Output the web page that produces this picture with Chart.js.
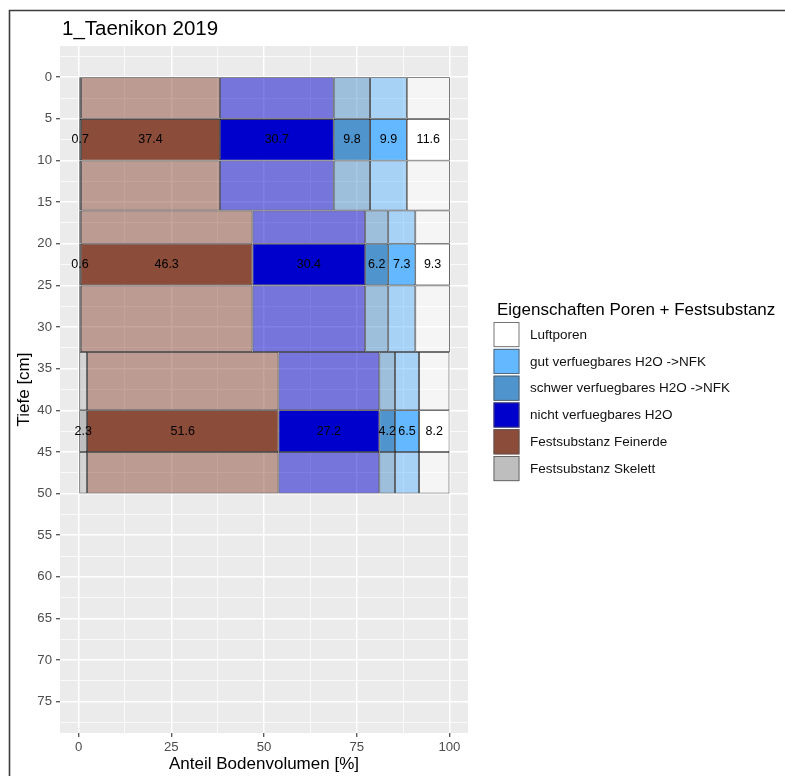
<!DOCTYPE html>
<html>
<head>
<meta charset="utf-8">
<script src="https://cdn.jsdelivr.net/npm/chart.js@4/dist/chart.umd.min.js"></script>
<style>
  html, body { margin: 0; padding: 0; background: #ffffff; }
  canvas { display: block; }
</style>
</head>
<body>
<canvas id="c" width="785" height="776"></canvas>
<script>
const FONT = '"Liberation Sans", Arial, Helvetica, sans-serif';

// Soil horizons and the sampled layer inside each one (depth in cm)
const horizonTop = [0, 16, 33];
const horizonBottom = [16, 33, 50];
const sampleTop = [5, 20, 40];
const sampleBottom = [10, 25, 45];

// Volume fractions per horizon [%], stacked from left to right
const skelett = [0.7, 0.6, 2.3];
const feinerde = [37.4, 46.3, 51.6];
const nichtVerfuegbar = [30.7, 30.4, 27.2];
const schwerVerfuegbar = [9.8, 6.2, 4.2];
const gutVerfuegbar = [9.9, 7.3, 6.5];
const luftporen = [11.6, 9.3, 8.2];

const componentNames = [
  'Festsubstanz Skelett',
  'Festsubstanz Feinerde',
  'nicht verfuegbares H2O',
  'schwer verfuegbares H2O ->NFK',
  'gut verfuegbares H2O ->NFK',
  'Luftporen'
];
const componentValues = [skelett, feinerde, nichtVerfuegbar, schwerVerfuegbar, gutVerfuegbar, luftporen];
const componentRgb = ['190,190,190', '139,76,57', '0,0,205', '79,148,205', '99,184,255', '255,255,255'];

// Axis ticks
const xTicks = [0, 25, 50, 75, 100];
const depthTicks = [0, 5, 10, 15, 20, 25, 30, 35, 40, 45, 50, 55, 60, 65, 70, 75];

const chartTitle = '1_Taenikon 2019';
const legendTitle = 'Eigenschaften Poren + Festsubstanz';

// grid positions: major ticks plus the midpoints between them (minor lines)
function withMinor(major, lo, hi) {
  const step = major[1] - major[0];
  const out = [];
  for (let v = major[0] - step / 2; v <= major[major.length - 1] + step / 2 + 1e-9; v += step / 2) {
    if (v > lo && v < hi) out.push(Math.round(v * 100) / 100);
  }
  return out;
}
const X_MIN = -5, X_MAX = 105;
const Y_MIN = -3.75, Y_MAX = 78.75;
const xGrid = withMinor(xTicks, X_MIN, X_MAX);
const yGrid = withMinor(depthTicks, Y_MIN, Y_MAX);

const isMajor = (ctx, list) => !!(ctx && ctx.tick && list.includes(ctx.tick.value));

// one dataset per component: three layers per horizon (upper, sampled, lower)
const datasets = componentNames.map((name, c) => {
  const data = [];
  horizonTop.forEach((top, h) => {
    let start = 0;
    for (let k = 0; k < c; k++) start += componentValues[k][h];
    const end = start + componentValues[c][h];
    const layers = [
      [top, sampleTop[h], false],
      [sampleTop[h], sampleBottom[h], true],
      [sampleBottom[h], horizonBottom[h], false]
    ];
    layers.forEach(([d0, d1, sample]) => {
      data.push({ x: [start, end], y: (d0 + d1) / 2, d0, d1, sample, value: componentValues[c][h] });
    });
  });
  return {
    label: name,
    data,
    grouped: false,
    borderSkipped: false,
    borderWidth: 0.8,
    borderColor: ctx => (ctx.raw && ctx.raw.sample) ? '#111111' : 'rgba(25,25,25,0.9)',
    backgroundColor: ctx => (ctx.raw && ctx.raw.sample)
      ? 'rgb(' + componentRgb[c] + ')'
      : 'rgba(' + componentRgb[c] + ',0.5)'
  };
});

// bar thickness follows the depth range of each layer on the depth axis
const depthBands = {
  id: 'depthBands',
  afterDatasetUpdate(chart, args) {
    const y = chart.scales.y;
    const ds = chart.data.datasets[args.index];
    args.meta.data.forEach((el, i) => {
      const d = ds.data[i];
      const p0 = y.getPixelForValue(d.d0);
      const p1 = y.getPixelForValue(d.d1);
      el.y = (p0 + p1) / 2;
      el.height = Math.abs(p1 - p0);
    });
  }
};

// grey panel, outer frame and plot title
const panel = {
  id: 'panel',
  beforeDraw(chart) {
    const { ctx, chartArea: a } = chart;
    ctx.save();
    ctx.fillStyle = '#ffffff';
    ctx.fillRect(0, 0, chart.width, chart.height);
    ctx.fillStyle = '#ebebeb';
    ctx.fillRect(a.left, a.top, a.right - a.left, a.bottom - a.top);
    ctx.strokeStyle = '#3c3c3c';
    ctx.lineWidth = 1.6;
    ctx.beginPath();
    ctx.moveTo(9.5, chart.height);
    ctx.lineTo(9.5, 10.5);
    ctx.lineTo(chart.width, 10.5);
    ctx.stroke();
    ctx.fillStyle = '#000000';
    ctx.font = '20.5px ' + FONT;
    ctx.textAlign = 'left';
    ctx.textBaseline = 'alphabetic';
    ctx.fillText(chartTitle, 62, 34.5);
    ctx.restore();
  }
};

// value labels on the sampled layers
const valueLabels = {
  id: 'valueLabels',
  afterDatasetsDraw(chart) {
    const { ctx } = chart;
    ctx.save();
    ctx.font = '12.5px ' + FONT;
    ctx.fillStyle = '#000000';
    ctx.textAlign = 'center';
    ctx.textBaseline = 'middle';
    chart.data.datasets.forEach((ds, di) => {
      chart.getDatasetMeta(di).data.forEach((el, i) => {
        const d = ds.data[i];
        if (!d.sample) return;
        const p = el.getCenterPoint();
        ctx.fillText(String(d.value), p.x, p.y);
      });
    });
    ctx.restore();
  }
};

// legend, top entry first (reverse stacking order)
const sideLegend = {
  id: 'sideLegend',
  afterDraw(chart) {
    const { ctx } = chart;
    ctx.save();
    ctx.fillStyle = '#000000';
    ctx.font = '17px ' + FONT;
    ctx.textAlign = 'left';
    ctx.textBaseline = 'alphabetic';
    ctx.fillText(legendTitle, 497, 315);
    const order = chart.data.datasets.map((d, i) => i).reverse();
    const x0 = 493.5, y0 = 322, step = 26.8, size = 26;
    ctx.font = '13.5px ' + FONT;
    ctx.textBaseline = 'middle';
    order.forEach((di, k) => {
      const y = y0 + k * step;
      ctx.fillStyle = 'rgb(' + componentRgb[di] + ')';
      ctx.fillRect(x0, y, size, size - 0.8);
      ctx.strokeStyle = '#555555';
      ctx.lineWidth = 0.8;
      ctx.strokeRect(x0 + 0.5, y + 0.5, size - 1, size - 1.8);
      ctx.fillStyle = '#111111';
      ctx.fillText(chart.data.datasets[di].label, 530, y + size / 2);
    });
    ctx.restore();
  }
};

Chart.defaults.font.family = FONT;

new Chart(document.getElementById('c'), {
  type: 'bar',
  data: { datasets },
  plugins: [depthBands, panel, valueLabels, sideLegend],
  options: {
    responsive: false,
    devicePixelRatio: 1,
    animation: false,
    events: [],
    indexAxis: 'y',
    layout: { padding: { top: 46, right: 317, bottom: 0, left: 0 } },
    plugins: {
      legend: { display: false },
      tooltip: { enabled: false },
      title: { display: false }
    },
    scales: {
      x: {
        type: 'linear',
        min: X_MIN,
        max: X_MAX,
        offset: false,
        afterBuildTicks: s => { s.ticks = xGrid.map(v => ({ value: v })); },
        afterFit: s => { s.height = 43; },
        border: { display: false },
        grid: {
          offset: false,
          color: '#ffffff',
          lineWidth: ctx => isMajor(ctx, xTicks) ? 1.5 : 0.75,
          drawTicks: true,
          tickLength: 4,
          tickWidth: 1.1,
          tickColor: ctx => isMajor(ctx, xTicks) ? '#333333' : 'rgba(0,0,0,0)'
        },
        ticks: {
          autoSkip: false,
          maxRotation: 0,
          padding: 2,
          color: '#4d4d4d',
          font: { size: 13.2 },
          callback: v => xTicks.includes(v) ? String(v) : ''
        },
        title: {
          display: true,
          text: 'Anteil Bodenvolumen [%]',
          color: '#000000',
          font: { size: 17 },
          padding: { top: 0, bottom: 1 }
        }
      },
      y: {
        type: 'linear',
        reverse: true,
        min: Y_MIN,
        max: Y_MAX,
        offset: false,
        afterBuildTicks: s => { s.ticks = yGrid.map(v => ({ value: v })); },
        afterFit: s => { s.width = 60; },
        border: { display: false },
        grid: {
          offset: false,
          color: '#ffffff',
          lineWidth: ctx => isMajor(ctx, depthTicks) ? 1.5 : 0.75,
          drawTicks: true,
          tickLength: 4,
          tickWidth: 1.1,
          tickColor: ctx => isMajor(ctx, depthTicks) ? '#333333' : 'rgba(0,0,0,0)'
        },
        ticks: {
          autoSkip: false,
          padding: 4,
          color: '#4d4d4d',
          font: { size: 13.2 },
          callback: v => depthTicks.includes(v) ? String(v) : ''
        },
        title: {
          display: true,
          text: 'Tiefe [cm]',
          color: '#000000',
          font: { size: 17 },
          padding: { top: 14, bottom: 0 }
        }
      }
    }
  }
});
</script>
</body>
</html>
